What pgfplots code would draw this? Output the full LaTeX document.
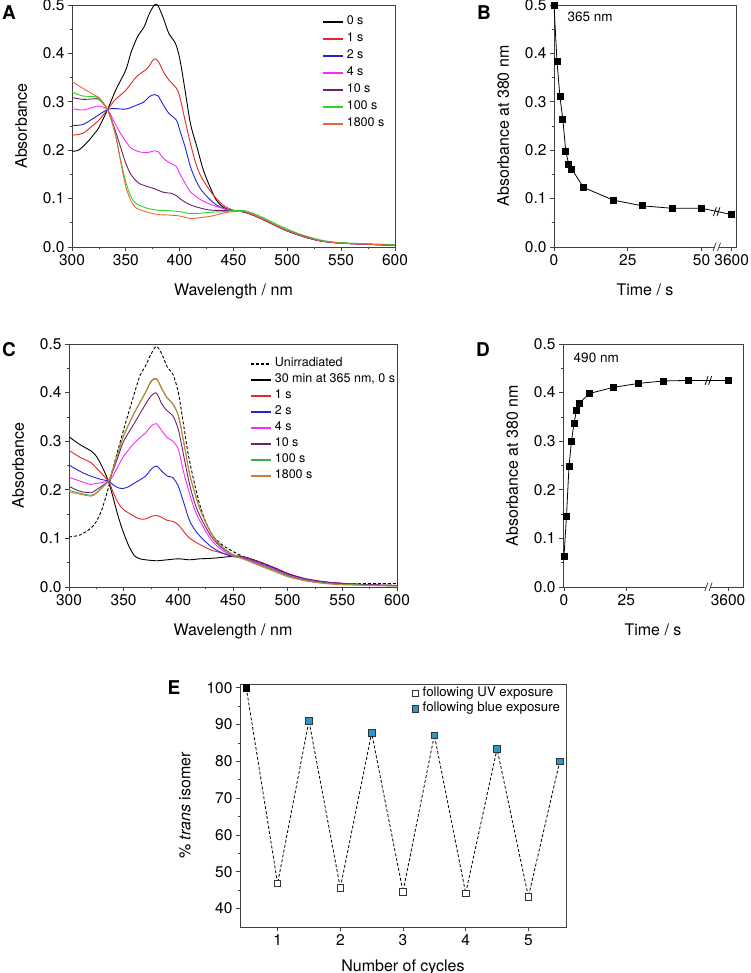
\documentclass[border=0pt]{standalone}
\usepackage{fontspec}
\setmainfont{TeX Gyre Heros}
\usepackage{pgfplots}
\pgfplotsset{compat=1.18}

\definecolor{aRed}{RGB}{228,38,38}
\definecolor{aBlue}{RGB}{35,35,220}
\definecolor{aMag}{RGB}{250,40,250}
\definecolor{aPur}{RGB}{112,32,112}
\definecolor{aGreen}{RGB}{40,215,40}
\definecolor{aOrange}{RGB}{240,100,50}
\definecolor{cGreen}{RGB}{60,175,70}
\definecolor{cOrange}{RGB}{205,125,55}
\definecolor{eBlue}{RGB}{45,150,205}

\pgfplotsset{
  panel/.style={
    scale only axis,
    axis line style={line width=0.8pt, black!75},
    tick style={line width=0.8pt, black!75},
    tick align=outside,
    xtick pos=left, ytick pos=left,
    major tick length=4pt, minor tick length=2.2pt,
    /pgf/number format/assume math mode=true,
    tick label style={font=\fontsize{15.5}{18}\selectfont},
    label style={font=\fontsize{16}{19}\selectfont},
    xlabel shift=11pt, ylabel shift=9pt,
    legend style={draw=none, fill=none, inner sep=0pt,
      font=\fontsize{12.5}{14}\selectfont,
      nodes={inner sep=0pt, text height=8.5pt, text depth=2.5pt},
      column sep=3pt, cells={anchor=west}},
    legend image code/.code={\draw[#1, line width=1.6pt] (0pt,0pt) -- (20pt,0pt);},
  },
  absy/.style={ymin=0, ymax=0.5, ytick={0,0.1,0.2,0.3,0.4,0.5}, minor y tick num=1,
    yticklabel style={/pgf/number format/.cd, fixed, fixed zerofill, precision=1}},
  spec/.style={line width=0.9pt, smooth, tension=0.5},
}

\begin{document}
\begin{tikzpicture}
\path[use as bounding box] (0,0) rectangle (750pt,-973pt);

% ---------- A
\begin{axis}[panel, absy, at={(72pt,-5pt)}, anchor=north west,
  width=323pt, height=242pt,
  xmin=300, xmax=600, xtick={300,350,...,600}, minor x tick num=1,
  xlabel={Wavelength / nm}, ylabel={Absorbance},
  legend style={at={(0.774,0.954)}, anchor=north west, row sep=6pt}]
\addplot[spec, black] coordinates {(300,0.198)(305,0.199)(310,0.207)(316,0.221)(320,0.232)(325,0.247)(333,0.284)(341,0.326)(350,0.366)(355,0.403)(361,0.435)(367,0.455)(372,0.483)(377,0.501)(380,0.498)(385,0.472)(390,0.441)(396,0.421)(400,0.39)(405,0.324)(410,0.255)(416,0.207)(422,0.159)(428,0.125)(434,0.097)(440,0.083)(447,0.076)(455,0.074)(460,0.073)(470,0.065)(480,0.055)(490,0.044)(500,0.034)(510,0.026)(520,0.019)(530,0.013)(540,0.010)(550,0.008)(570,0.006)(600,0.0035)};
\addlegendentry{0 s}
\addplot[spec, aRed] coordinates {(300,0.231)(310,0.235)(320,0.252)(325,0.262)(333,0.284)(340,0.304)(350,0.324)(360,0.352)(370,0.369)(376,0.388)(380,0.384)(385,0.362)(390,0.345)(397,0.328)(400,0.311)(405,0.262)(410,0.214)(415,0.173)(420,0.145)(430,0.111)(440,0.087)(450,0.076)(460,0.073)(470,0.065)(480,0.055)(490,0.044)(500,0.034)(510,0.026)(520,0.019)(530,0.013)(540,0.010)(550,0.008)(570,0.006)(600,0.0035)};
\addlegendentry{1 s}
\addplot[spec, aBlue] coordinates {(300,0.251)(310,0.253)(320,0.266)(333,0.284)(340,0.286)(350,0.285)(360,0.293)(367,0.300)(372,0.311)(377,0.315)(380,0.312)(385,0.293)(390,0.276)(397,0.262)(400,0.242)(405,0.207)(410,0.166)(415,0.138)(420,0.118)(430,0.094)(440,0.080)(450,0.075)(460,0.072)(470,0.064)(480,0.054)(490,0.043)(500,0.033)(510,0.025)(520,0.018)(530,0.013)(540,0.010)(550,0.008)(570,0.006)(600,0.0035)};
\addlegendentry{2 s}
\addplot[spec, aMag] coordinates {(300,0.286)(310,0.283)(320,0.289)(325,0.291)(333,0.284)(340,0.255)(345,0.235)(350,0.218)(355,0.204)(362,0.197)(370,0.195)(377,0.199)(380,0.197)(385,0.183)(390,0.175)(397,0.166)(400,0.152)(405,0.132)(410,0.114)(420,0.097)(430,0.087)(440,0.080)(450,0.075)(460,0.073)(470,0.065)(480,0.055)(490,0.044)(500,0.034)(510,0.026)(520,0.019)(530,0.013)(540,0.010)(550,0.008)(570,0.006)(600,0.0035)};
\addlegendentry{4 s}
\addplot[spec, aPur] coordinates {(300,0.309)(310,0.305)(320,0.306)(325,0.305)(333,0.284)(340,0.242)(345,0.207)(350,0.173)(355,0.149)(362,0.132)(370,0.125)(377,0.120)(385,0.113)(392,0.111)(397,0.106)(402,0.097)(410,0.087)(420,0.080)(430,0.076)(450,0.075)(460,0.072)(470,0.064)(480,0.054)(490,0.043)(500,0.033)(510,0.025)(520,0.018)(530,0.013)(540,0.010)(550,0.008)(570,0.006)(600,0.0035)};
\addlegendentry{10 s}
\addplot[spec, aGreen] coordinates {(300,0.320)(310,0.312)(320,0.311)(325,0.307)(333,0.284)(340,0.235)(345,0.182)(350,0.134)(355,0.103)(360,0.089)(370,0.080)(380,0.076)(390,0.075)(400,0.073)(410,0.069)(420,0.070)(430,0.072)(440,0.073)(450,0.075)(460,0.075)(470,0.068)(480,0.058)(490,0.047)(500,0.037)(510,0.028)(520,0.021)(530,0.015)(540,0.011)(550,0.009)(570,0.007)(600,0.005)};
\addlegendentry{100 s}
\addplot[spec, aOrange] coordinates {(300,0.342)(310,0.328)(320,0.315)(325,0.309)(333,0.284)(340,0.235)(345,0.178)(350,0.125)(355,0.094)(360,0.080)(370,0.072)(380,0.067)(390,0.066)(400,0.064)(410,0.059)(420,0.061)(430,0.064)(440,0.070)(450,0.073)(460,0.073)(470,0.065)(480,0.055)(490,0.044)(500,0.034)(510,0.026)(520,0.019)(530,0.013)(540,0.010)(550,0.008)(570,0.006)(600,0.0035)};
\addlegendentry{1800 s}
\end{axis}

% ---------- B
\begin{axis}[panel, absy, at={(554pt,-5pt)}, anchor=north west,
  width=182pt, height=242pt, clip=false,
  xmin=0, xmax=61.65, xtick={0,25,50,60.2}, xticklabels={0,25,50,3600},
  xlabel={Time / s}, ylabel={Absorbance at 380 nm}]
\addplot[black, line width=0.8pt, mark=square*, mark size=3pt] coordinates {(0,0.500)(1,0.384)(2,0.311)(3,0.263)(4,0.197)(5,0.171)(6,0.161)(10,0.123)(20,0.097)(30,0.085)(40,0.080)(50,0.080)(60.2,0.067)};
\draw[black, line width=0.8pt] (axis cs:54.0,0.064) -- (axis cs:55.0,0.082) (axis cs:55.2,0.064) -- (axis cs:56.2,0.082);
\fill[white] (axis cs:54.3,-0.004) rectangle (axis cs:56.0,0.004);
\draw[black!75, line width=0.8pt] (axis cs:53.9,-0.008) -- (axis cs:54.9,0.009) (axis cs:55.4,-0.008) -- (axis cs:56.4,0.009);
\node[anchor=west, font=\fontsize{13.5}{15}\selectfont] at (rel axis cs:0.055,0.95) {365 nm};
\end{axis}

% ---------- C
\begin{axis}[panel, absy, at={(69pt,-344pt)}, anchor=north west,
  width=328pt, height=243pt,
  xmin=300, xmax=600, xtick={300,350,...,600}, minor x tick num=1,
  xlabel={Wavelength / nm}, ylabel={Absorbance},
  legend style={at={(0.552,0.942)}, anchor=north west, row sep=5pt}]
\addplot[spec, black, dash pattern=on 3pt off 2pt] coordinates {(300,0.103)(310,0.107)(320,0.121)(325,0.135)(330,0.159)(336,0.204)(340,0.242)(350,0.324)(360,0.400)(365,0.435)(370,0.455)(375,0.479)(380,0.495)(385,0.479)(390,0.452)(395,0.438)(400,0.400)(405,0.331)(410,0.262)(420,0.166)(430,0.111)(440,0.087)(450,0.073)(460,0.062)(475,0.050)(490,0.036)(500,0.027)(515,0.017)(530,0.011)(545,0.008)(560,0.007)(600,0.007)};
\addlegendentry{Unirradiated}
\addplot[spec, black] coordinates {(300,0.309)(310,0.293)(320,0.280)(325,0.269)(330,0.249)(336,0.218)(340,0.187)(345,0.145)(350,0.111)(355,0.083)(360,0.064)(365,0.058)(370,0.056)(380,0.054)(390,0.056)(400,0.058)(410,0.056)(420,0.058)(430,0.059)(440,0.061)(450,0.063)(460,0.062)(475,0.051)(490,0.037)(500,0.027)(515,0.017)(530,0.011)(545,0.008)(560,0.006)(580,0.004)(600,0.003)};
\addlegendentry{30 min at 365 nm, 0 s}
\addplot[spec, aRed] coordinates {(300,0.281)(310,0.267)(320,0.256)(325,0.245)(336,0.218)(340,0.197)(345,0.173)(350,0.159)(360,0.145)(365,0.140)(370,0.140)(375,0.145)(380,0.147)(385,0.143)(390,0.137)(395,0.135)(400,0.128)(405,0.114)(410,0.101)(420,0.087)(430,0.076)(440,0.070)(450,0.063)(460,0.059)(475,0.047)(490,0.034)(500,0.025)(515,0.016)(530,0.011)(545,0.008)(560,0.006)(580,0.004)(600,0.003)};
\addlegendentry{1 s}
\addplot[spec, aBlue] coordinates {(300,0.251)(310,0.238)(320,0.228)(330,0.221)(336,0.218)(340,0.211)(345,0.204)(350,0.203)(355,0.207)(360,0.214)(370,0.228)(375,0.242)(380,0.249)(385,0.238)(390,0.228)(395,0.225)(400,0.207)(405,0.173)(410,0.138)(415,0.118)(420,0.104)(430,0.083)(440,0.070)(450,0.063)(460,0.060)(475,0.048)(490,0.035)(500,0.025)(515,0.016)(530,0.011)(545,0.008)(560,0.006)(580,0.004)(600,0.003)};
\addlegendentry{2 s}
\addplot[spec, aMag] coordinates {(300,0.226)(310,0.218)(320,0.211)(325,0.213)(336,0.218)(340,0.228)(345,0.249)(350,0.269)(360,0.297)(370,0.317)(375,0.331)(380,0.336)(385,0.321)(390,0.307)(395,0.300)(400,0.283)(405,0.235)(410,0.194)(415,0.159)(420,0.135)(430,0.097)(440,0.076)(450,0.064)(460,0.060)(475,0.048)(490,0.035)(500,0.025)(515,0.016)(530,0.011)(545,0.008)(560,0.006)(580,0.004)(600,0.003)};
\addlegendentry{4 s}
\addplot[spec, aPur] coordinates {(300,0.207)(310,0.197)(320,0.194)(325,0.200)(336,0.218)(340,0.238)(345,0.269)(350,0.300)(360,0.338)(370,0.376)(375,0.393)(380,0.399)(385,0.376)(390,0.362)(395,0.352)(400,0.324)(405,0.269)(410,0.214)(415,0.173)(420,0.145)(430,0.104)(440,0.080)(450,0.066)(460,0.062)(475,0.051)(490,0.038)(500,0.028)(515,0.018)(530,0.012)(545,0.008)(560,0.006)(580,0.004)(600,0.003)};
\addlegendentry{10 s}
\addplot[spec, cGreen] coordinates {(300,0.199)(310,0.193)(320,0.189)(325,0.194)(336,0.218)(340,0.242)(345,0.276)(350,0.311)(360,0.359)(370,0.400)(375,0.422)(380,0.428)(385,0.407)(390,0.388)(395,0.376)(400,0.352)(405,0.297)(410,0.235)(415,0.194)(420,0.159)(430,0.111)(440,0.083)(450,0.067)(460,0.058)(475,0.045)(490,0.032)(500,0.023)(515,0.014)(530,0.009)(545,0.006)(560,0.005)(580,0.003)(600,0.002)};
\addlegendentry{100 s}
\addplot[spec, cOrange] coordinates {(300,0.196)(310,0.191)(320,0.187)(325,0.193)(336,0.218)(340,0.242)(345,0.277)(350,0.312)(360,0.360)(370,0.401)(375,0.424)(380,0.429)(385,0.408)(390,0.389)(395,0.377)(400,0.353)(405,0.298)(410,0.236)(415,0.194)(420,0.159)(430,0.110)(440,0.082)(450,0.065)(460,0.057)(475,0.043)(490,0.030)(500,0.021)(515,0.013)(530,0.008)(545,0.005)(560,0.004)(580,0.003)(600,0.002)};
\addlegendentry{1800 s}
\end{axis}

% ---------- D
\begin{axis}[panel, absy, at={(563pt,-344pt)}, anchor=north west,
  width=180pt, height=243pt, clip=false,
  xmin=-0.4, xmax=71.8, xtick={0,25,65.8}, xticklabels={0,25,3600},
  xlabel={Time / s}, ylabel={Absorbance at 380 nm}]
\addplot[black, line width=0.8pt, mark=square*, mark size=3pt] coordinates {(0,0.063)(1,0.146)(2,0.248)(3,0.300)(4,0.337)(5,0.363)(6,0.377)(10,0.398)(20,0.411)(30,0.419)(40,0.424)(50,0.425)(65.8,0.425)};
\draw[black, line width=0.8pt] (axis cs:56.6,0.416) -- (axis cs:57.8,0.434) (axis cs:58.0,0.416) -- (axis cs:59.2,0.434);
\fill[white] (axis cs:57.0,-0.004) rectangle (axis cs:59.0,0.004);
\draw[black!75, line width=0.8pt] (axis cs:56.5,-0.008) -- (axis cs:57.7,0.009) (axis cs:58.2,-0.008) -- (axis cs:59.4,0.009);
\node[anchor=west, font=\fontsize{13.5}{15}\selectfont] at (rel axis cs:0.04,0.945) {490 nm};
\end{axis}

% ---------- E
\begin{axis}[panel, at={(240pt,-684pt)}, anchor=north west,
  width=326pt, height=243pt, xlabel shift=7pt,
  xmin=0.4, xmax=5.6, xtick={1,2,3,4,5},
  ymin=35, ymax=101, ytick={40,50,60,70,80,90,100}, minor y tick num=1,
  xlabel={Number of cycles}, ylabel={\% \textit{trans} isomer},
  legend style={at={(0.528,0.985)}, anchor=north west, row sep=4.5pt, column sep=4pt,
    font=\fontsize{13.2}{15}\selectfont},
  legend image code/.code={\draw[#1] plot coordinates {(0pt,0pt)};}]
\addplot[black, line width=0.8pt, dash pattern=on 3pt off 2pt, forget plot] coordinates {(0.5,100)(1,46.8)(1.5,91.0)(2,45.6)(2.5,87.7)(3,44.6)(3.5,87.1)(4,44.2)(4.5,83.4)(5,43.2)(5.5,80.0)};
\addplot[only marks, mark=square*, mark size=3.2pt, mark options={draw=black, fill=black}, forget plot] coordinates {(0.5,100)};
\addplot[only marks, mark=square*, mark size=3.2pt, mark options={draw=black!80, fill=white, line width=0.7pt}] coordinates {(1,46.8)(2,45.6)(3,44.6)(4,44.2)(5,43.2)};
\addlegendentry{following UV exposure}
\addplot[only marks, mark=square*, mark size=3.2pt, mark options={draw=black!80, fill=eBlue, line width=0.7pt}] coordinates {(1.5,91.0)(2.5,87.7)(3.5,87.1)(4.5,83.4)(5.5,80.0)};
\addlegendentry{following blue exposure}
\end{axis}

% panel letters
\begin{scope}[every node/.style={font=\bfseries\fontsize{19}{19}\selectfont}]
\node at (9pt,-13pt) {A};
\node at (484pt,-13pt) {B};
\node at (9pt,-350pt) {C};
\node at (483pt,-350pt) {D};
\node at (174pt,-688pt) {E};
\end{scope}
\end{tikzpicture}
\end{document}
